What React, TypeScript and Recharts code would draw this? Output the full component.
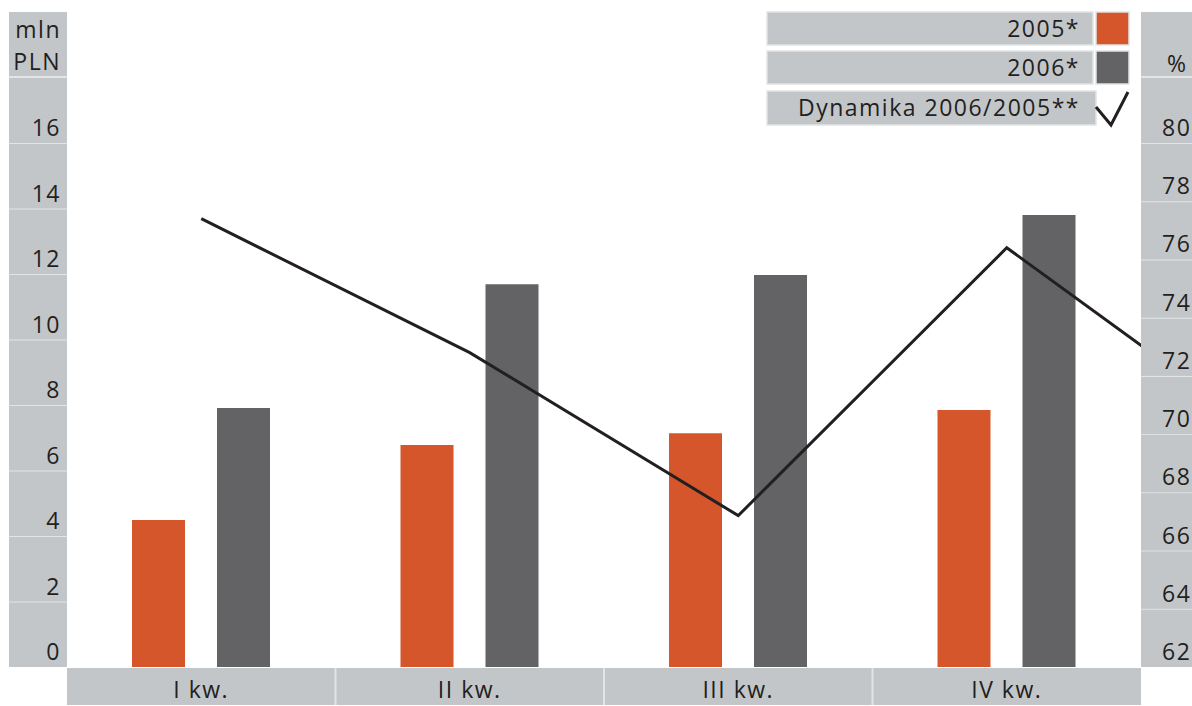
import React from 'react';
import { ComposedChart, Bar, Line, XAxis, YAxis, Legend } from 'recharts';

const quarters = ['I kw.', 'II kw.', 'III kw.', 'IV kw.'];
// the 5th slot only carries the tail of the dynamics line past IV kw.
const quarterNo = [1, 2, 3, 4, 5];
const sales2005 = [4.49, 6.78, 7.14, 7.85];
const sales2006 = [7.91, 11.69, 11.97, 13.8];
const dynamics = [77.4, 72.8, 67.2, 76.4, 69.7];
const leftTicks = [0, 2, 4, 6, 8, 10, 12, 14, 16];
const rightTicks = [62, 64, 66, 68, 70, 72, 74, 76, 78, 80];

const data = quarterNo.map((q, i) => ({
  q,
  s2005: sales2005[i] ?? null,
  s2006: sales2006[i] ?? null,
  dyn: dynamics[i],
}));

const W = 1192;
const H = 706;
const TOP = 12;
const AXIS_L = 67;
const AXIS_R = 51;
const AXIS_B = 39;
const PLOT_BOTTOM = H - AXIS_B;
const PLOT_H = PLOT_BOTTOM - TOP;
const PLOT_W = W - AXIS_L - AXIS_R;
const HEADER_BOTTOM = TOP + 65;
const LEFT_MAX = 20;
const RIGHT_MIN = 62;
const RIGHT_MAX = 84.5;

const PANEL = '#c2c6c8';
const SEP = '#e2e4e5';
const ORANGE = '#d4562a';
const GREY = '#636365';
const INK = '#231f20';
const FONT = '"Open Sans", "Noto Sans", sans-serif';

const textStyle = { fontFamily: FONT, fontSize: 23, letterSpacing: 1.5, fill: INK };

function LeftTick({ y, payload }: any) {
  const band = (PLOT_H / LEFT_MAX) * 2;
  const v = payload.value;
  const isTop = v === leftTicks[leftTicks.length - 1];
  const top = isTop ? HEADER_BOTTOM : y - band;
  return (
    <g>
      <rect x={9} y={top} width={AXIS_L - 9} height={y - top} fill={PANEL} />
      <line x1={9} x2={AXIS_L} y1={top} y2={top} stroke={SEP} strokeWidth={2} />
      <text x={61} y={y - 7} textAnchor="end" style={textStyle}>{v}</text>
      {isTop && (
        <g>
          <rect x={9} y={TOP} width={AXIS_L - 9} height={HEADER_BOTTOM - TOP - 1} fill={PANEL} />
          <text x={61} y={38} textAnchor="end" style={textStyle}>mln</text>
          <text x={61} y={70} textAnchor="end" style={textStyle}>PLN</text>
        </g>
      )}
    </g>
  );
}

function RightTick({ y, payload }: any) {
  const band = (PLOT_H / (RIGHT_MAX - RIGHT_MIN)) * 2;
  const v = payload.value;
  const isTop = v === rightTicks[rightTicks.length - 1];
  const top = isTop ? HEADER_BOTTOM : y - band;
  const left = W - AXIS_R;
  return (
    <g>
      <rect x={left} y={top} width={AXIS_R} height={y - top} fill={PANEL} />
      <line x1={left} x2={W} y1={top} y2={top} stroke={SEP} strokeWidth={2} />
      <text x={left + 21} y={y - 7} textAnchor="start" style={textStyle}>{v}</text>
      {isTop && (
        <g>
          <rect x={left} y={TOP} width={AXIS_R} height={HEADER_BOTTOM - TOP - 1} fill={PANEL} />
          <text x={left + 26} y={72} textAnchor="start" style={textStyle}>%</text>
        </g>
      )}
    </g>
  );
}

function QuarterTick({ x, payload, index }: any) {
  const band = PLOT_W / quarters.length;
  const left = x - band / 2;
  return (
    <g>
      <rect x={left} y={PLOT_BOTTOM + 1} width={band} height={AXIS_B - 2} fill={PANEL} />
      {index > 0 && (
        <line x1={left} x2={left} y1={PLOT_BOTTOM + 1} y2={H - 1} stroke={SEP} strokeWidth={2} />
      )}
      <text x={x} y={PLOT_BOTTOM + 31} textAnchor="middle" style={textStyle}>
        {quarters[payload.value - 1]}
      </text>
    </g>
  );
}

const legendRows = [12, 51, 91];

function LegendBoxes({ payload }: any) {
  return (
    <svg width={W} height={130} style={{ display: 'block' }}>
      {(payload || []).map((entry: any, i: number) => {
        const top = legendRows[i];
        const isLine = entry.type === 'line';
        return (
          <g key={entry.value}>
            <rect
              x={767}
              y={top}
              width={isLine ? 329 : 326}
              height={isLine ? 34 : 33}
              fill={PANEL}
              stroke={SEP}
              strokeWidth={1.5}
            />
            <text x={1080} y={top + 25} textAnchor="end" style={textStyle}>{entry.value}</text>
            {isLine ? (
              <polyline
                points={`${1096},${top + 16} ${1111},${top + 34} ${1128},${top + 1}`}
                fill="none"
                stroke={INK}
                strokeWidth={3}
              />
            ) : (
              <rect
                x={1096}
                y={top}
                width={33}
                height={33}
                fill={entry.color}
                stroke={SEP}
                strokeWidth={1.5}
              />
            )}
          </g>
        );
      })}
    </svg>
  );
}

export default function App() {
  return (
    <div style={{ position: 'absolute', left: 0, top: 0, width: W, height: H, background: '#fff' }}>
      <ComposedChart
        width={W}
        height={H}
        data={data}
        margin={{ top: TOP, right: 0, bottom: 0, left: 0 }}
        barGap={32}
      >
        <XAxis
          dataKey="q"
          type="number"
          domain={[0.5, 4.5]}
          ticks={[1, 2, 3, 4]}
          interval={0}
          allowDataOverflow
          height={AXIS_B}
          axisLine={false}
          tickLine={false}
          tick={<QuarterTick />}
        />
        <YAxis
          yAxisId="left"
          orientation="left"
          width={AXIS_L}
          domain={[0, LEFT_MAX]}
          ticks={leftTicks}
          interval={0}
          axisLine={false}
          tickLine={false}
          tick={<LeftTick />}
        />
        <YAxis
          yAxisId="right"
          orientation="right"
          width={AXIS_R}
          domain={[RIGHT_MIN, RIGHT_MAX]}
          ticks={rightTicks}
          interval={0}
          axisLine={false}
          tickLine={false}
          tick={<RightTick />}
        />
        <Legend
          layout="vertical"
          align="center"
          verticalAlign="middle"
          wrapperStyle={{ position: 'absolute', left: 0, top: 0, width: W, height: 130 }}
          content={<LegendBoxes />}
        />
        <Bar yAxisId="left" dataKey="s2005" name="2005*" fill={ORANGE} barSize={53} isAnimationActive={false} />
        <Bar yAxisId="left" dataKey="s2006" name="2006*" fill={GREY} barSize={53} isAnimationActive={false} />
        <Line
          yAxisId="right"
          dataKey="dyn"
          name="Dynamika 2006/2005**"
          type="linear"
          stroke={INK}
          strokeWidth={3}
          dot={false}
          activeDot={false}
          isAnimationActive={false}
        />
      </ComposedChart>
    </div>
  );
}
